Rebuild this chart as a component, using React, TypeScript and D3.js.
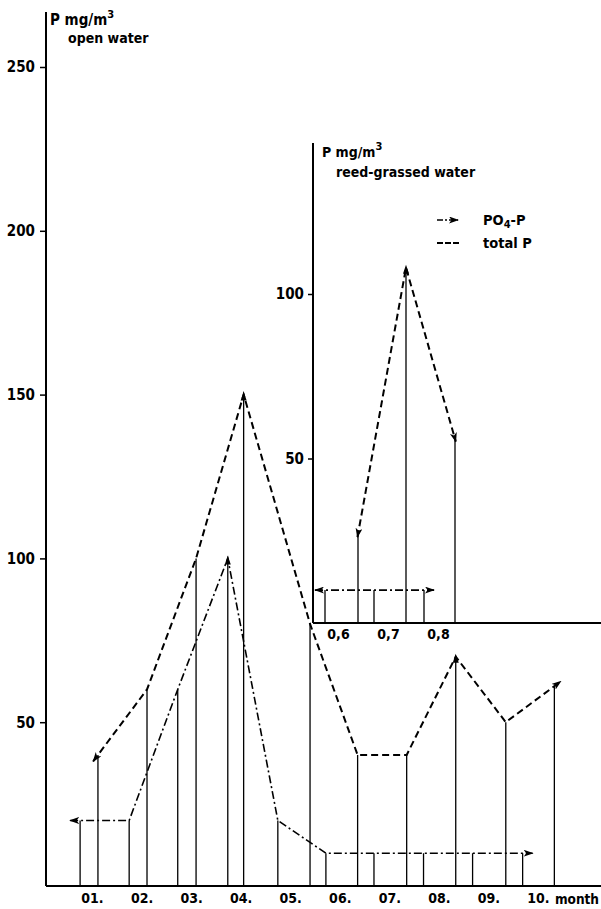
import { useEffect, useRef } from 'react';
import * as d3 from 'd3';

const WIDTH = 601;
const HEIGHT = 909;
const FONT = "'DejaVu Sans Condensed', 'DejaVu Sans', sans-serif";

// open water (main panel); sampling dates in month units
const monthTicks = [1, 2, 3, 4, 5, 6, 7, 8, 9, 10];
const monthLabels = ['01.', '02.', '03.', '04.', '05.', '06.', '07.', '08.', '09.', '10.'];
const po4Months = [0.76, 1.75, 2.73, 3.74, 4.75, 5.72, 6.69, 7.69, 8.68, 9.69];
const po4Values = [20, 20, 60, 100, 20, 10, 10, 10, 10, 10];
const totalMonths = [1.12, 2.11, 3.1, 4.06, 5.4, 6.36, 7.35, 8.34, 9.35, 10.33];
const totalValues = [40, 60, 100, 150, 80, 40, 40, 70, 50, 61];
const mainYTicks = [50, 100, 150, 200, 250];

// reed-grassed water (inset)
const insetTicks = [0.6, 0.7, 0.8];
const insetTickLabels = ['0,6', '0,7', '0,8'];
const insetPo4Months = [0.574, 0.672, 0.772];
const insetPo4Values = [10, 10, 10];
const insetTotalMonths = [0.64, 0.736, 0.834];
const insetTotalValues = [27, 108, 56];
const insetYTicks = [50, 100];

const DASH_TOTAL = '7,4';
const DASH_PO4 = '8,3,2,3';

type Pt = [number, number];

// extend the first and last segment a little so the arrowheads sit past the end points
function extendEnds(pts: Pt[], len: number): Pt[] {
  const ext = (a: Pt, b: Pt): Pt => {
    const dx = b[0] - a[0];
    const dy = b[1] - a[1];
    const d = Math.hypot(dx, dy) || 1;
    return [b[0] + (dx / d) * len, b[1] + (dy / d) * len];
  };
  const first = ext(pts[1], pts[0]);
  const last = ext(pts[pts.length - 2], pts[pts.length - 1]);
  return [first, ...pts.slice(1, -1), last];
}

export default function App() {
  const svgRef = useRef<SVGSVGElement>(null);

  useEffect(() => {
    if (!svgRef.current) return;
    const svg = d3.select(svgRef.current);
    svg.selectAll('*').remove();

    const defs = svg.append('defs');
    defs.append('marker')
      .attr('id', 'arrow')
      .attr('viewBox', '0 0 10 7')
      .attr('refX', 9)
      .attr('refY', 3.5)
      .attr('markerWidth', 10)
      .attr('markerHeight', 7)
      .attr('markerUnits', 'userSpaceOnUse')
      .attr('orient', 'auto-start-reverse')
      .append('path')
      .attr('d', 'M0,0 L10,3.5 L0,7 L2.5,3.5 Z')
      .attr('fill', '#000');

    const line = d3.line<Pt>();

    const drawSeries = (
      x: d3.ScaleLinear<number, number>,
      y: d3.ScaleLinear<number, number>,
      base: number,
      months: number[],
      values: number[],
      dash: string,
      width: number,
      ext: number,
    ) => {
      const pts: Pt[] = months.map((m, i) => [x(m), y(values[i])]);
      // drop lines
      svg.append('g')
        .selectAll('line')
        .data(pts)
        .join('line')
        .attr('x1', d => d[0])
        .attr('x2', d => d[0])
        .attr('y1', base)
        .attr('y2', d => d[1])
        .attr('stroke', '#000')
        .attr('stroke-width', 1.3);
      svg.append('path')
        .attr('d', line(extendEnds(pts, ext)))
        .attr('fill', 'none')
        .attr('stroke', '#000')
        .attr('stroke-width', width)
        .attr('stroke-dasharray', dash)
        .attr('marker-start', 'url(#arrow)')
        .attr('marker-end', 'url(#arrow)');
      // pointed tips at the peaks
      pts.forEach((p, i) => {
        if (i === 0 || i === pts.length - 1) return;
        if (values[i] > values[i - 1] && values[i] > values[i + 1]) {
          svg.append('path')
            .attr('d', `M${p[0]},${p[1] - 3} L${p[0] - 3},${p[1] + 6} L${p[0] + 3},${p[1] + 6} Z`)
            .attr('fill', '#000');
        }
      });
    };

    const text = (xp: number, yp: number, s: string, size: number, anchor = 'start') =>
      svg.append('text')
        .attr('x', xp)
        .attr('y', yp)
        .attr('font-family', FONT)
        .attr('font-weight', 'bold')
        .attr('font-size', size)
        .attr('text-anchor', anchor)
        .attr('fill', '#000')
        .text(s);

    // ---------- main panel ----------
    const axisX = 46;
    const baseY = 886;
    const x = d3.scaleLinear().domain([1, 10]).range([92, 538]);
    const y = d3.scaleLinear().domain([0, 250]).range([baseY, 67]);

    svg.append('line')
      .attr('x1', axisX).attr('x2', axisX)
      .attr('y1', 12).attr('y2', baseY)
      .attr('stroke', '#000').attr('stroke-width', 2);
    svg.append('line')
      .attr('x1', axisX).attr('x2', WIDTH)
      .attr('y1', baseY).attr('y2', baseY)
      .attr('stroke', '#000').attr('stroke-width', 2);

    const yAxis = svg.append('g')
      .attr('transform', `translate(${axisX},0)`)
      .call(d3.axisLeft(y).tickValues(mainYTicks).tickSize(6).tickSizeOuter(0).tickPadding(5));
    yAxis.select('.domain').remove();
    yAxis.selectAll('line').attr('stroke-width', 1.5);
    yAxis.selectAll('text')
      .attr('font-family', FONT).attr('font-weight', 'bold').attr('font-size', 15);

    const xAxis = svg.append('g')
      .attr('transform', `translate(0,${baseY})`)
      .call(d3.axisBottom(x).tickValues(monthTicks).tickSize(0).tickPadding(7)
        .tickFormat((_, i) => monthLabels[i]));
    xAxis.select('.domain').remove();
    xAxis.selectAll('text')
      .attr('font-family', FONT).attr('font-weight', 'bold').attr('font-size', 14);
    text(599, 904, 'month', 13.5, 'end');

    const t1 = text(50, 25, 'P mg/m', 15);
    t1.append('tspan').attr('dy', -7).attr('font-size', 11).text('3');
    text(68, 43, 'open water', 14);

    drawSeries(x, y, baseY, totalMonths, totalValues, DASH_TOTAL, 2, 8);
    drawSeries(x, y, baseY, po4Months, po4Values, DASH_PO4, 1.6, 10);

    // ---------- inset ----------
    const iAxisX = 313;
    const iBaseY = 623;
    const ix = d3.scaleLinear().domain([0.6, 0.8]).range([338, 438]);
    const iy = d3.scaleLinear().domain([0, 100]).range([iBaseY, 294]);

    svg.append('line')
      .attr('x1', iAxisX).attr('x2', iAxisX)
      .attr('y1', 143).attr('y2', iBaseY)
      .attr('stroke', '#000').attr('stroke-width', 2);
    svg.append('line')
      .attr('x1', iAxisX).attr('x2', WIDTH)
      .attr('y1', iBaseY).attr('y2', iBaseY)
      .attr('stroke', '#000').attr('stroke-width', 2);

    const iyAxis = svg.append('g')
      .attr('transform', `translate(${iAxisX},0)`)
      .call(d3.axisLeft(iy).tickValues(insetYTicks).tickSize(5).tickSizeOuter(0).tickPadding(4));
    iyAxis.select('.domain').remove();
    iyAxis.selectAll('line').attr('stroke-width', 1.5);
    iyAxis.selectAll('text')
      .attr('font-family', FONT).attr('font-weight', 'bold').attr('font-size', 15);

    const ixAxis = svg.append('g')
      .attr('transform', `translate(0,${iBaseY})`)
      .call(d3.axisBottom(ix).tickValues(insetTicks).tickSize(0).tickPadding(6)
        .tickFormat((_, i) => insetTickLabels[i]));
    ixAxis.select('.domain').remove();
    ixAxis.selectAll('text')
      .attr('font-family', FONT).attr('font-weight', 'bold').attr('font-size', 14);

    const t2 = text(322, 157, 'P mg/m', 14);
    t2.append('tspan').attr('dy', -7).attr('font-size', 11).text('3');
    text(336, 177, 'reed-grassed water', 14);

    drawSeries(ix, iy, iBaseY, insetTotalMonths, insetTotalValues, DASH_TOTAL, 2, 3);
    drawSeries(ix, iy, iBaseY, insetPo4Months, insetPo4Values, DASH_PO4, 1.6, 10);

    // ---------- legend ----------
    svg.append('line')
      .attr('x1', 437).attr('x2', 458)
      .attr('y1', 220).attr('y2', 220)
      .attr('stroke', '#000').attr('stroke-width', 1.6)
      .attr('stroke-dasharray', '6,2,2,2')
      .attr('marker-end', 'url(#arrow)');
    const leg = text(483, 225, 'PO', 14.5);
    leg.append('tspan').attr('dy', 3).attr('font-size', 11).text('4');
    leg.append('tspan').attr('dy', -3).text('-P');

    svg.append('line')
      .attr('x1', 437).attr('x2', 459)
      .attr('y1', 243).attr('y2', 243)
      .attr('stroke', '#000').attr('stroke-width', 2)
      .attr('stroke-dasharray', '6,2');
    text(483, 248, 'total P', 14.5);
  }, []);

  return (
    <div style={{ position: 'absolute', left: 0, top: 0, background: '#fff' }}>
      <svg ref={svgRef} width={WIDTH} height={HEIGHT} style={{ display: 'block' }} />
    </div>
  );
}
